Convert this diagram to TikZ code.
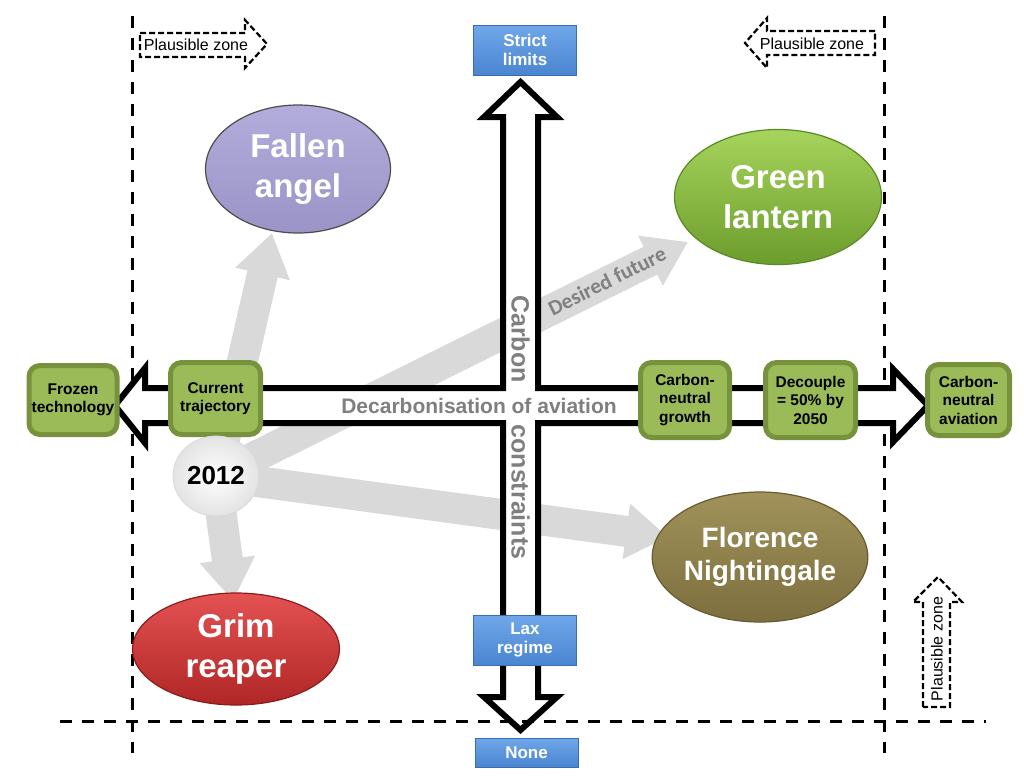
\documentclass[tikz,border=0pt]{standalone}
\usepackage{fontspec}
\setmainfont{Liberation Sans}
\newfontfamily\calib{Carlito}
\usetikzlibrary{arrows.meta,shapes.geometric,backgrounds}
\definecolor{gfill}{HTML}{9BBB59}
\definecolor{gbord}{HTML}{76923C}
\definecolor{bluetop}{HTML}{70A7EA}
\definecolor{bluebot}{HTML}{4A85D0}
\definecolor{blueedge}{HTML}{3A6DB0}
\definecolor{arrgray}{HTML}{D9D9D9}
\definecolor{txtgray}{HTML}{7F7F7F}
\definecolor{purtop}{HTML}{B2ADDB}
\definecolor{purbot}{HTML}{9A94C7}
\definecolor{grntop}{HTML}{A6D45C}
\definecolor{grnbot}{HTML}{6C9C2C}
\definecolor{grnedge}{HTML}{5A8A25}
\definecolor{olvtop}{HTML}{A09259}
\definecolor{olvbot}{HTML}{7C6F3E}
\definecolor{olvedge}{HTML}{665A30}
\definecolor{redtop}{HTML}{E45252}
\definecolor{redbot}{HTML}{B02626}
\definecolor{rededge}{HTML}{8A1C1C}
\begin{document}
\begin{tikzpicture}[x=1pt,y=-1pt,
  greenbox/.style={draw=gbord, fill=gfill, line width=5pt, rounded corners=11pt,
    align=center, inner sep=0pt, font=\bfseries\fontsize{15.5}{18.5}\selectfont},
  bluebox/.style={draw=blueedge, line width=1pt, top color=bluetop, bottom color=bluebot,
    minimum width=103pt, align=center, inner sep=0pt, text=white,
    font=\bfseries\fontsize{17}{19.5}\selectfont},
  bigell/.style={ellipse, inner sep=0pt, line width=1.2pt, align=center, text=white,
    font=\bfseries\fontsize{33}{40}\selectfont},
  grayarrow/.style={draw=arrgray, line width=31pt, -{Triangle[length=42pt,width=53pt]}},
  zonedash/.style={draw=black, line width=3pt, dash pattern=on 12pt off 10pt},
  pzone/.style={draw=black, fill=white, line width=2.2pt, dash pattern=on 6pt off 3pt, line join=miter},
  pztext/.style={inner sep=0pt, font=\fontsize{16}{18}\selectfont},
  bandtext/.style={inner sep=0pt, text=txtgray, font=\bfseries\fontsize{21}{25}\selectfont},
  vtext/.style={inner sep=0pt, text=txtgray, rotate=-90, font=\bfseries\fontsize{25}{30}\selectfont}
]
\useasboundingbox (0,0) rectangle (1024,780);

% the cross-shaped double arrow
\draw[line width=6pt, fill=white, line join=miter]
  (115,405.5) -- (145,368) -- (145,388) -- (503,388) -- (503,117) -- (484,117)
  -- (520.5,82) -- (557,117) -- (538,117) -- (538,388) -- (893,388) -- (893,369)
  -- (928,405.5) -- (893,442) -- (893,423) -- (538,423) -- (538,697) -- (557,697)
  -- (520.5,730) -- (484,697) -- (503,697) -- (503,423) -- (145,423) -- (145,443) -- cycle;

\node[bandtext] (decarb) at (479,406) {Decarbonisation of aviation};
\node[vtext] (carbon) at (520.5,339) {Carbon};
\node[vtext] (constr) at (520.5,492) {constraints};

% green milestone boxes
\node[greenbox, minimum width=88pt, minimum height=69pt] (frozen) at (73,400) {Frozen\\technology};
\node[greenbox, minimum width=90pt, minimum height=72pt] (current) at (215.5,398.5) {Current\\trajectory};
\node[greenbox, minimum width=89pt, minimum height=75pt] (cngrowth) at (685,400) {Carbon-\\neutral\\growth};
\node[greenbox, minimum width=90pt, minimum height=75pt] (decouple) at (810.5,400) {Decouple\\= 50\% by\\2050};
\node[greenbox, minimum width=82pt, minimum height=71pt] (cnaviation) at (968.5,400) {Carbon-\\neutral\\aviation};

% blue boxes
\node[bluebox, minimum height=50pt] (strict) at (525,50) {Strict\\limits};
\node[bluebox, minimum height=50pt] (lax) at (525,640) {Lax\\regime};
\node[bluebox, minimum height=29pt] (none) at (526.5,752.5) {None};

% scenario ellipses
\node[bigell, minimum width=185pt, minimum height=128pt, draw=black!70, top color=purtop, bottom color=purbot] (fallen) at (298,169) {Fallen\\angel};
\node[bigell, minimum width=207pt, minimum height=135pt, draw=grnedge, top color=grntop, bottom color=grnbot] (green) at (778,197) {Green\\lantern};
\node[bigell, minimum width=205pt, minimum height=130pt, draw=olvedge, top color=olvtop, bottom color=olvbot,
  font=\bfseries\fontsize{28}{33}\selectfont] (florence) at (760,557) {Florence\\Nightingale};
\node[bigell, minimum width=207pt, minimum height=112pt, draw=rededge, top color=redtop, bottom color=redbot] (grim) at (236,649) {Grim\\reaper};

% 2012 ball
\node[ellipse, minimum width=86pt, minimum height=80pt, inner sep=0pt, draw=black!15, line width=0.8pt,
  inner color=white, outer color=black!11, font=\bfseries\fontsize{26}{30}\selectfont] (y2012) at (216,476) {2012};

% tips of the scenario arrows
\coordinate (tipF) at (272,233);
\coordinate (tipG) at (688,242);
\coordinate (tipN) at (668,537);
\coordinate (tipR) at (233,601);

\begin{pgfonlayer}{background}
  \draw[zonedash] (132,16) -- (132,753);
  \draw[zonedash] (884,16) -- (884,753);
  \draw[grayarrow] (y2012.center) -- (tipF);
  \draw[grayarrow] (y2012.center) -- (tipG);
  \draw[grayarrow] (y2012.center) -- (tipN);
  \draw[grayarrow] (y2012.center) -- (tipR);
  \node[inner sep=0pt, rotate=26.4, text=black!50, font=\calib\bfseries\fontsize{21.5}{24}\selectfont] (desired) at (607,281) {Desired future};
\end{pgfonlayer}

% horizontal dashed line
\draw[zonedash] (60,721) -- (986,721);

% plausible zone arrows
\draw[pzone] (140,33) -- (245,33) -- (245,20) -- (267,44) -- (245,68) -- (245,57) -- (140,57) -- cycle;
\node[pztext] (pzl) at (196,45) {Plausible zone};
\draw[pzone] (875,31) -- (767,31) -- (767,18) -- (745,43) -- (767,68) -- (767,55) -- (875,55) -- cycle;
\node[pztext] (pzr) at (812,44) {Plausible zone};
\draw[pzone] (923,707) -- (923,602) -- (913,602) -- (938,577) -- (962,602) -- (950,602) -- (950,707) -- cycle;
\node[pztext, rotate=90] (pzb) at (937,649) {Plausible zone};
\end{tikzpicture}
\end{document}
